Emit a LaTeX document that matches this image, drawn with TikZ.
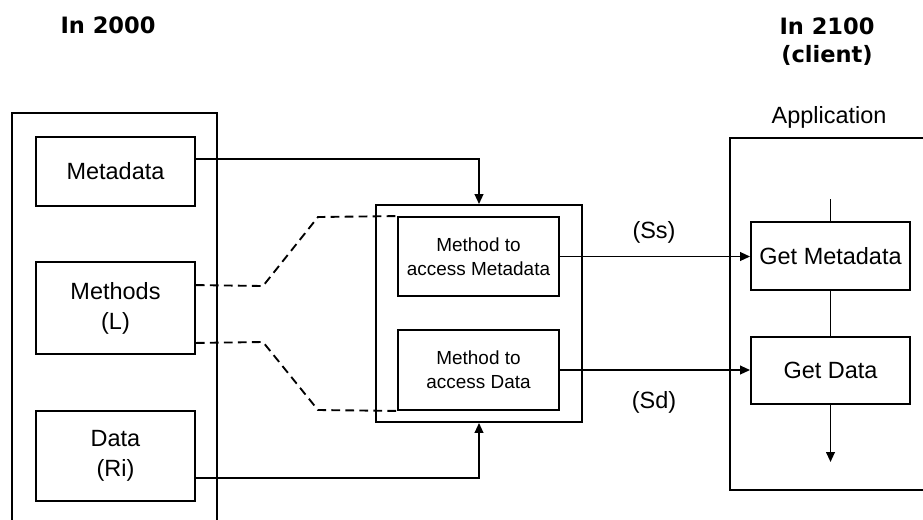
\documentclass[tikz,border=0pt]{standalone}
\usepackage{fontspec}
\setmainfont{Liberation Sans}
\newfontfamily\titlefont{DejaVu Sans}
\usetikzlibrary{arrows.meta,calc}

% one drawing unit = 0.75pt
\newdimen\pxu \pxu=0.75pt

\begin{document}
\begin{tikzpicture}[x=0.75pt,y=-0.75pt,
  line width=1.4pt,
  size/.style 2 args={minimum width=#1*\pxu, minimum height=#2*\pxu},
  box/.style={draw, inner sep=0pt, align=center, font=\fontsize{17.6}{22.5}\selectfont},
  subbox/.style={draw, inner sep=0pt, align=center, font=\fontsize{14.2}{18}\selectfont},
  frame/.style={draw, inner sep=0pt},
  link/.style={-{Triangle[length=7.5pt,width=6.5pt]}},
  ref/.style={dash pattern=on 6.5pt off 4pt},
  caption/.style={font=\fontsize{17.6}{22.5}\selectfont},
  heading/.style={font=\titlefont\bfseries\fontsize{16.9}{21}\selectfont, align=center}]

\useasboundingbox[fill=white] (0,0) rectangle (923,519);
\clip (0,0) rectangle (923,519);

% headings
\node[heading, anchor=base] (past) at (108,33) {In 2000};
\node[heading] (future) at (827,42) {In 2100\\(client)};

% source side
\node[frame, size={205}{440}] (source) at (114.5,333) {};
\node[box, size={159}{69}] (meta) at (115.5,171.5) {Metadata};
\node[box, size={159}{92}] (methods) at (115.5,308) {Methods\\(L)};
\node[box, size={159}{90}] (data) at (115.5,456) {Data\\(Ri)};

% access methods
\node[frame, size={206}{217}] (access) at (479,313.5) {};
\node[subbox, size={161}{79}] (accmeta) at (478.5,256.5) {Method to\\access Metadata};
\node[subbox, size={161}{80}] (accdata) at (478.5,370) {Method to\\access Data};

% client application
\node[frame, size={240}{352}] (app) at (850,314) {};
\node[caption, anchor=base] (appname) at (829,123) {Application};
\node[box, size={159}{68}] (getmeta) at (830.5,256) {Get Metadata};
\node[box, size={159}{67}] (getdata) at (830.5,370.5) {Get Data};

% feeds into the access methods
\draw[link] ($(meta.east)+(0,-12.5)$) -| (access.north);
\draw[link] ($(data.east)+(0,22)$) -| (access.south);

% methods realised by the access boxes
\coordinate (bendA) at (263,286);
\coordinate (riseA) at (318,217);
\coordinate (bendB) at (263,342);
\coordinate (riseB) at (318,410);
\draw[ref] ($(methods.north east)+(0,24)$) -- (bendA) -- (riseA) -- (accmeta.north west);
\draw[ref] ($(methods.south east)+(0,-12)$) -- (bendB) -- (riseB) -- (accdata.south west);

% streams to the client
\draw[link] (accmeta.east) -- (accmeta.east -| getmeta.west);
\draw[link] (accdata.east) -- (accdata.east -| getdata.west);
\node[caption] (ss) at (654,232) {(Ss)};
\node[caption] (sd) at (654,402) {(Sd)};

% flow inside the application
\coordinate (feed) at (830.5,199);
\coordinate (result) at (830.5,462);
\draw (feed) -- (getmeta.north);
\draw (getmeta.south) -- (getdata.north);
\draw[link] (getdata.south) -- (result);
\end{tikzpicture}
\end{document}
